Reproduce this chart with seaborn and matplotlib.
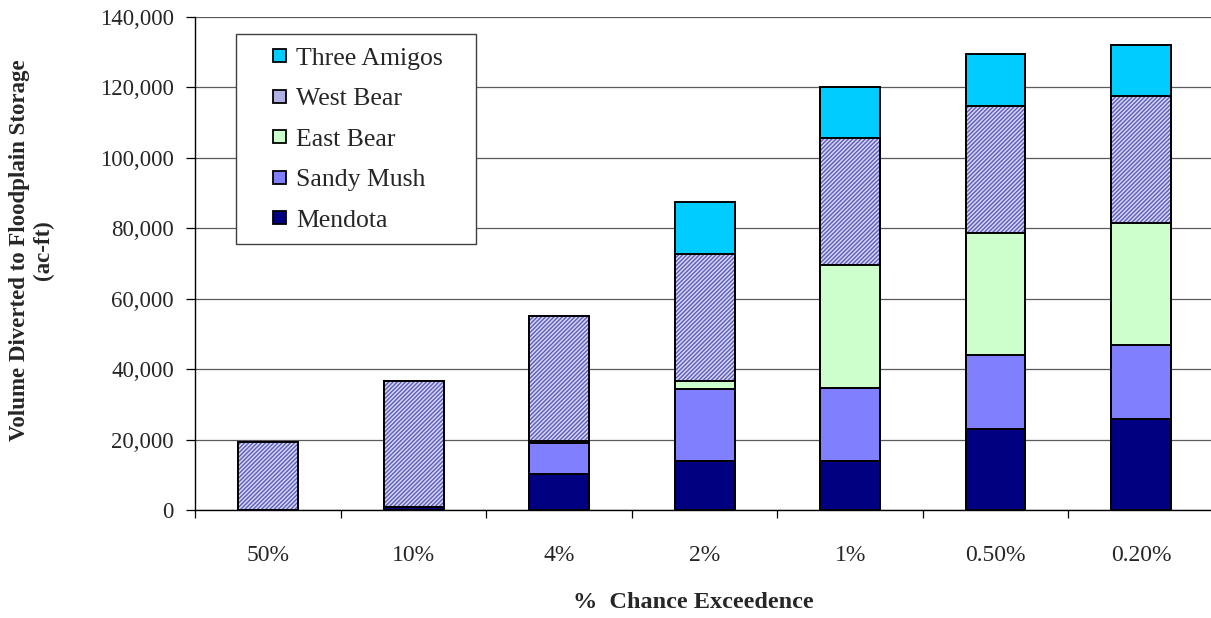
"""Stacked bars: volume diverted to floodplain storage by chance exceedence."""

import matplotlib

matplotlib.use("Agg")
import matplotlib.patches as mpatches
import matplotlib.pyplot as plt
import numpy as np
import seaborn as sns
from matplotlib.legend_handler import HandlerPatch
from matplotlib.ticker import FuncFormatter

# data (ac-ft)
categories = ["50%", "10%", "4%", "2%", "1%", "0.50%", "0.20%"]
mendota = [0, 1000, 10200, 14100, 14100, 23200, 26000]
sandy_mush = [0, 0, 8900, 20300, 20500, 20900, 20900]
east_bear = [0, 0, 600, 2400, 35000, 34600, 34700]
west_bear = [19300, 35700, 35300, 35900, 36000, 35900, 35800]
three_amigos = [0, 0, 0, 14700, 14600, 14800, 14700]

series_names = ["Mendota", "Sandy Mush", "East Bear", "West Bear", "Three Amigos"]
series_colors = ["#000080", "#8080FF", "#CCFFCC", "#B0B0E2", "#00CCFF"]

sns.set_theme(style="white")
plt.rcParams["font.family"] = ["Liberation Serif", "DejaVu Serif"]
plt.rcParams["hatch.linewidth"] = 1.0

fig = plt.figure(figsize=(12.11, 6.18), dpi=100)
ax = fig.add_axes([0.1614, 0.1741, 0.841, 0.7989])

# stack by drawing cumulative totals, tallest first
layers = np.cumsum(
    np.array([mendota, sandy_mush, east_bear, west_bear, three_amigos]), axis=0
)
bar_w = 0.41
edge_lw = 1.4

# Three Amigos (total)
sns.barplot(x=categories, y=layers[4], order=categories, color=series_colors[4],
            saturation=1, width=bar_w, edgecolor="black", linewidth=edge_lw, ax=ax)
# West Bear: fine textured fill, then outline
sns.barplot(x=categories, y=layers[3], order=categories, color="#D6D6F2",
            saturation=1, width=bar_w, edgecolor="#5c5cbc", hatch="////////",
            linewidth=0, ax=ax)
sns.barplot(x=categories, y=layers[3], order=categories, fill=False,
            width=bar_w, edgecolor="black", linewidth=edge_lw, ax=ax)
for i in (2, 1, 0):
    sns.barplot(x=categories, y=layers[i], order=categories, color=series_colors[i],
                saturation=1, width=bar_w, edgecolor="black", linewidth=edge_lw, ax=ax)

ax.set_ylim(0, 140000)
ax.set_yticks(np.arange(0, 140001, 20000))
ax.yaxis.set_major_formatter(FuncFormatter(lambda v, _: f"{v:,.0f}"))
ax.grid(axis="y", color="#5a5a5a", linewidth=0.9)
ax.set_axisbelow(True)

ax.set_xticks(range(len(categories)))
ax.set_xticklabels(categories)
ax.set_xticks(np.arange(-0.5, len(categories), 1), minor=True)
ax.tick_params(axis="x", which="major", length=0, pad=25, labelsize=17)
ax.tick_params(axis="x", which="minor", length=6, width=0.9, color="black",
               direction="out", bottom=True)
ax.tick_params(axis="y", length=6.5, width=0.9, color="black", direction="out",
               left=True, pad=9, labelsize=16.5)
ax.set_xlabel("")
ax.set_ylabel("")

for side in ("top", "right"):
    ax.spines[side].set_visible(False)
for side in ("left", "bottom"):
    ax.spines[side].set_color("black")
    ax.spines[side].set_linewidth(1.0)


def square_patch(legend, orig_handle, xdescent, ydescent, width, height, fontsize):
    s = 0.5 * fontsize
    return mpatches.Rectangle((-xdescent + width - s, -ydescent + (height - s) / 2), s, s)


handles = [
    mpatches.Patch(facecolor=series_colors[i], edgecolor="black", linewidth=1.3,
                   label=series_names[i])
    for i in (4, 3, 2, 1, 0)
]
leg = ax.legend(
    handles=handles,
    loc="upper left",
    bbox_to_anchor=(0.0398, 0.5, 0.2356, 0.465),
    mode="expand",
    borderaxespad=0,
    borderpad=0.5,
    labelspacing=0.68,
    handlelength=1.45,
    handletextpad=0.38,
    fontsize=18.5,
    frameon=True,
    fancybox=False,
    framealpha=1,
    handler_map={mpatches.Patch: HandlerPatch(patch_func=square_patch)},
)
leg.get_frame().set_edgecolor("#404040")
leg.get_frame().set_linewidth(1.0)

fig.text(31.5 / 1211, 1 - 250 / 618, "Volume Diverted to Floodplain Storage\n(ac-ft)",
         rotation=90, ha="center", va="center", multialignment="center",
         fontsize=16.5, fontweight="bold")
fig.text(693 / 1211, 1 - 602 / 618, "%  Chance Exceedence", ha="center", va="center",
         fontsize=17.5, fontweight="bold")

fig.savefig("out.png", dpi=100)
plt.close(fig)
